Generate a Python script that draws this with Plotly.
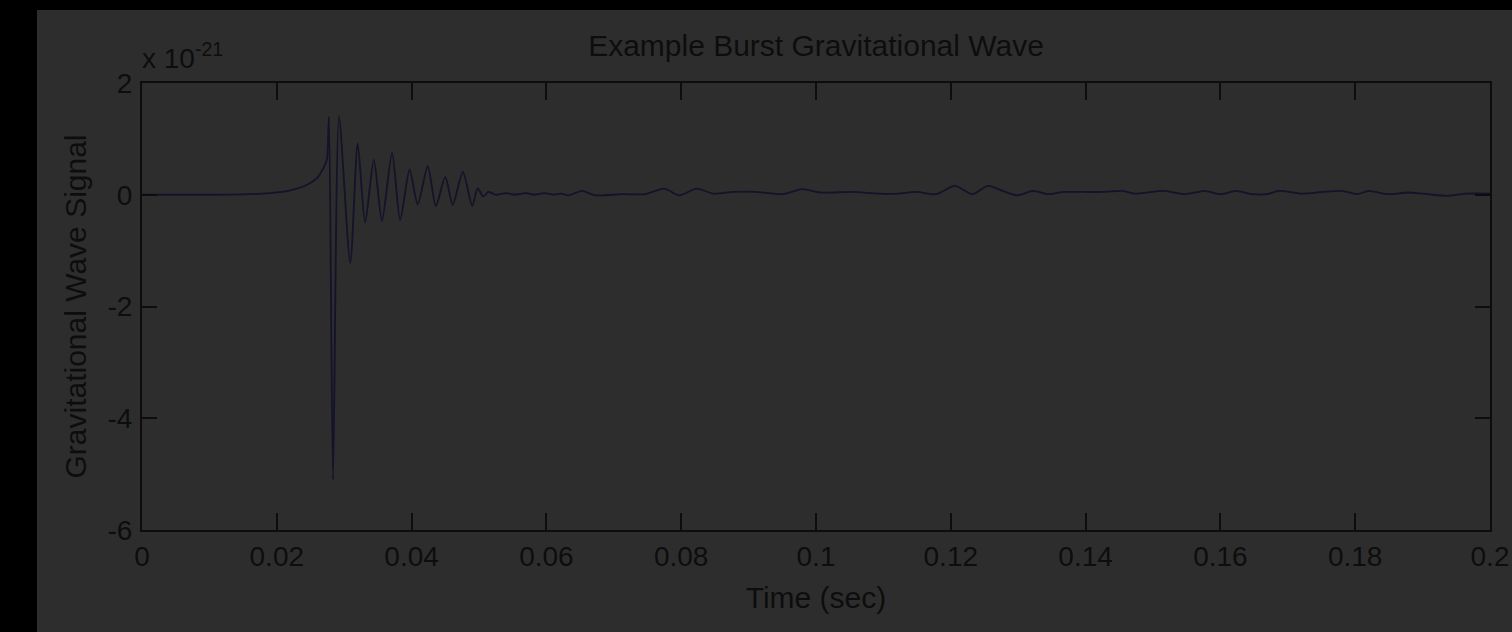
import plotly.graph_objects as go

# Strain h(t) of an example burst signal, in units of 1e-21
time_s = [
    0.0000, 0.0100, 0.0160, 0.0190, 0.0220, 0.0245, 0.0260, 0.0268, 0.0272,
    0.02745, 0.02774, 0.02834, 0.02923, 0.0309, 0.0320, 0.0331, 0.0344,
    0.0356, 0.0371, 0.0383, 0.0397, 0.0409, 0.0424, 0.0436, 0.0450, 0.0461,
    0.0476, 0.0490, 0.0498, 0.0506, 0.0514, 0.0525, 0.0540, 0.0553, 0.0570,
    0.0582, 0.0597, 0.0610, 0.0622, 0.0633, 0.0653, 0.0672, 0.0712, 0.0746,
    0.0775, 0.0797, 0.0823, 0.0848, 0.0877, 0.0911, 0.0951, 0.0979, 0.1007,
    0.1053, 0.1093, 0.1121, 0.1149, 0.1178, 0.1206, 0.1232, 0.1255, 0.1281,
    0.1299, 0.1322, 0.1345, 0.1368, 0.1397, 0.1426, 0.1455, 0.1472, 0.1516,
    0.1548, 0.1577, 0.1600, 0.1623, 0.1646, 0.1669, 0.1687, 0.1722, 0.1751,
    0.1780, 0.1803, 0.1820, 0.1849, 0.1878, 0.1907, 0.1936, 0.1965, 0.2000,
]
strain = [
    0.00, 0.00, 0.01, 0.03, 0.08, 0.18, 0.30, 0.45, 0.55,
    0.64, 1.40, -5.10, 1.40, -1.22, 0.92, -0.50, 0.63,
    -0.47, 0.75, -0.45, 0.45, -0.17, 0.51, -0.20, 0.32, -0.18,
    0.41, -0.20, 0.12, -0.03, 0.05, 0.00, 0.03, 0.00, 0.03,
    0.00, 0.03, 0.00, 0.02, -0.01, 0.07, -0.01, 0.01, 0.01,
    0.11, -0.01, 0.11, 0.02, 0.05, 0.05, 0.01, 0.10, 0.04,
    0.05, 0.02, 0.02, 0.05, 0.01, 0.16, 0.01, 0.16, 0.05,
    -0.01, 0.07, 0.01, 0.05, 0.05, 0.05, 0.07, 0.02, 0.07,
    0.01, 0.07, 0.01, 0.07, 0.01, 0.01, 0.07, 0.02, 0.05,
    0.07, 0.01, 0.07, 0.01, 0.04, 0.01, -0.02, 0.02, 0.02,
]

x_ticks = [0, 0.02, 0.04, 0.06, 0.08, 0.1, 0.12, 0.14, 0.16, 0.18, 0.2]
x_tick_text = ["0", "0.02", "0.04", "0.06", "0.08", "0.1", "0.12", "0.14", "0.16", "0.18", "0.2"]
y_ticks = [-6, -4, -2, 0, 2]
y_tick_text = ["-6", "-4", "-2", "0", "2"]

W, H = 1512, 632
L, R, T, B = 142, 22, 83, 102
BG = "#2d2d2d"
INK = "#0d0d0d"
FONT = "Liberation Sans, Arial, Helvetica, sans-serif"

plot_w = W - L - R
plot_h = H - T - B


def px_to_paper_x(px):
    return (px - L) / plot_w


def px_to_paper_y(py):
    return (H - B - py) / plot_h


fig = go.Figure()
fig.add_trace(go.Scatter(
    x=time_s, y=strain, mode="lines",
    line=dict(color="#13132a", width=1.8, shape="spline", smoothing=0.7),
    hoverinfo="skip", showlegend=False,
))

axis_common = dict(
    showline=True, linecolor=INK, linewidth=2, mirror="ticks",
    ticks="inside", tickcolor=INK, tickwidth=1.5,
    showgrid=False, zeroline=False,
    tickfont=dict(family=FONT, size=28, color=INK),
    title_font=dict(family=FONT, size=30, color=INK),
)

fig.update_xaxes(
    range=[0, 0.2], tickvals=x_ticks, ticktext=x_tick_text, ticklen=17,
    ticklabelstandoff=0,
    title=dict(text="Time (sec)", standoff=16),
    **axis_common,
)
fig.update_yaxes(
    range=[-6, 2], tickvals=y_ticks, ticktext=y_tick_text, ticklen=15,
    ticklabelstandoff=2,
    title=dict(text="Gravitational Wave Signal", standoff=12),
    **axis_common,
)

# grey canvas framed by a black band on the top and left
fig.add_shape(
    type="rect", xref="paper", yref="paper", layer="below",
    x0=px_to_paper_x(37), x1=px_to_paper_x(W + 5),
    y0=px_to_paper_y(H + 5), y1=px_to_paper_y(10),
    fillcolor=BG, line_width=0,
)

fig.add_annotation(
    text="x 10<sup>-21</sup>", xref="paper", yref="paper",
    x=px_to_paper_x(140), y=px_to_paper_y(76), xanchor="left", yanchor="bottom",
    showarrow=False, font=dict(family=FONT, size=28, color=INK),
)

fig.update_layout(
    width=W, height=H,
    margin=dict(l=L, r=R, t=T, b=B, autoexpand=False),
    paper_bgcolor="#000000", plot_bgcolor=BG,
    title=dict(
        text="Example Burst Gravitational Wave",
        x=0.5, xref="paper", xanchor="center",
        y=1 - 45 / H, yref="container", yanchor="middle",
        font=dict(family=FONT, size=30, color=INK),
    ),
)

fig.write_html("out.html")
